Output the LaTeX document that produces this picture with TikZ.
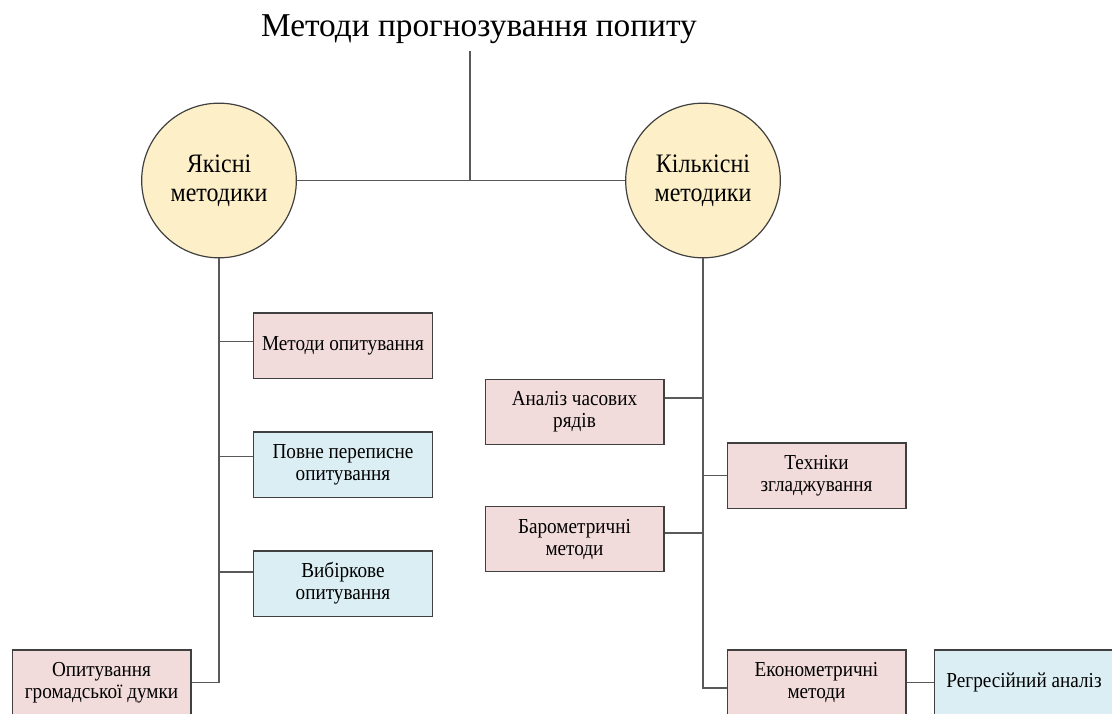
\documentclass[tikz,border=0pt]{standalone}
\usepackage{fontspec}
\setmainfont{Liberation Serif}
\newfontfamily\narrowserif{Liberation Serif}[FakeStretch=0.9]
\definecolor{circfill}{RGB}{253,240,200}
\definecolor{pinkfill}{RGB}{242,220,219}
\definecolor{bluefill}{RGB}{218,238,243}
\definecolor{edgegray}{RGB}{64,64,64}
\definecolor{linegray}{RGB}{89,89,89}

\begin{document}
\begin{tikzpicture}[x=0.75pt,y=-0.75pt,
	every node/.style={align=center},
	group/.style={circle, draw=edgegray, fill=circfill, line width=0.9pt, minimum size=116pt, inner sep=0pt, font=\narrowserif\fontsize{20}{22}\selectfont},
	pinkbox/.style={rectangle, draw=edgegray, fill=pinkfill, line width=1pt, minimum width=134pt, minimum height=49pt, inner sep=2pt, font=\narrowserif\fontsize{16}{16.5}\selectfont},
	bluebox/.style={pinkbox, fill=bluefill},
	link/.style={draw=linegray, line width=1.2pt}]
			\path[use as bounding box, fill=white] (0,0) rectangle (1112,713);
			% Title
			\node[anchor=base, font=\fontsize{25}{30}\selectfont] (title) at (479,37) {Методи прогнозування попиту};
			\coordinate (top) at (470,51);
			% Two groups of methods
			\node[group] (yak) at (219,180.5) {Якісні\\методики};
			\node[group] (kil) at (703,180.5) {Кількісні\\методики};
			% Qualitative methods
			\node[pinkbox] (opyt) at (343,345.5) {Методи опитування};
			\node[bluebox] (povne) at (343,464.5) {Повне переписне\\опитування};
			\node[bluebox] (vybir) at (343,583.5) {Вибіркове\\опитування};
			\node[pinkbox] (dumka) at (101.5,682.5) {Опитування\\громадської думки};
			% Quantitative methods
			\node[pinkbox] (ryady) at (574.5,412) {Аналіз часових\\рядів};
			\node[pinkbox] (zglad) at (816.5,475.5) {Техніки\\згладжування};
			\node[pinkbox] (barom) at (574.5,539) {Барометричні\\методи};
			\node[pinkbox] (ekon) at (816.5,682.5) {Економетричні\\методи};
			\node[bluebox] (regr) at (1024,682.5) {Регресійний аналіз};
			% Connectors
			\draw[link] (yak.east) -- (kil.west);
			\draw[link] (top) -- (top |- yak.east);
			\draw[link] (yak.south) -- (yak.south |- dumka.east) -- (dumka.east);
			\draw[link] ([yshift=3pt]opyt.west) -- ([yshift=3pt]opyt.west -| yak.south);
			\draw[link] ([yshift=6pt]povne.west) -- ([yshift=6pt]povne.west -| yak.south);
			\draw[link] ([yshift=8.5pt]vybir.west) -- ([yshift=8.5pt]vybir.west -| yak.south);
			\draw[link] (kil.south) -- ([yshift=-4pt]kil.south |- ekon.west) -- ([yshift=-4pt]ekon.west);
			\draw[link] ([yshift=10.5pt]ryady.east) -- ([yshift=10.5pt]ryady.east -| kil.south);
			\draw[link] (zglad.west) -- (zglad.west -| kil.south);
			\draw[link] ([yshift=4.5pt]barom.east) -- ([yshift=4.5pt]barom.east -| kil.south);
			\draw[link] (ekon.east) -- (regr.west);
		\end{tikzpicture}
\end{document}
